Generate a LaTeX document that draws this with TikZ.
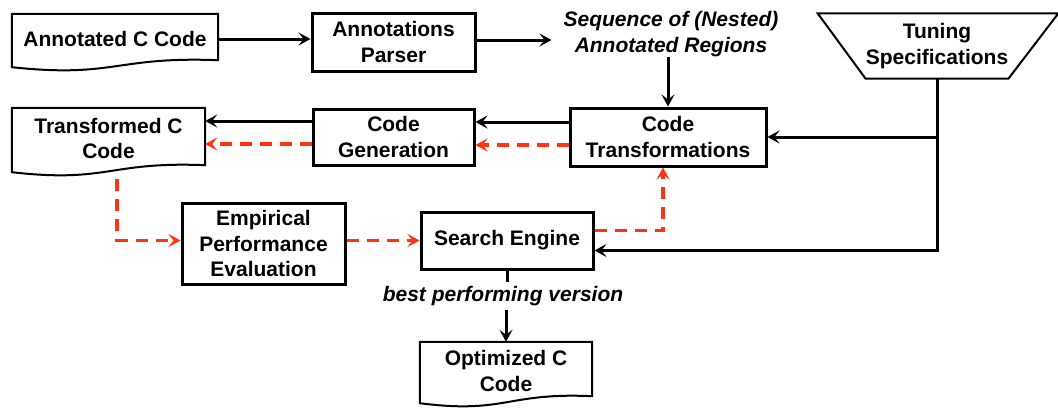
\documentclass[tikz,border=0pt]{standalone}
\usepackage{fontspec}
\setmainfont{Liberation Sans}
\usetikzlibrary{arrows.meta,calc}
\definecolor{dashred}{RGB}{255,51,17}
\tikzset{
  x=1pt, y=-1pt,
  lbl/.style={font=\bfseries\fontsize{21}{25.5}\selectfont, align=center, inner sep=0pt},
  box/.style={lbl, draw, line width=3pt},
  docnode/.style={lbl},
  docline/.style={draw, line width=2pt, line join=miter},
  arr/.style={line width=3pt, -{Stealth[length=12pt,width=13pt,inset=5pt]}},
  plain/.style={line width=3pt},
  redarr/.style={line width=3.4pt, dashed, dash pattern=on 12pt off 8pt, draw=dashred, -{Stealth[length=12pt,width=13pt,inset=5pt]}},
}
\newcommand\docpath[1]{\path[docline] (#1.north west) -- (#1.north east) -- ($(#1.south east)+(0,-4)$) .. controls ($(#1.south)+(0,-8)$) and ($(#1.south)+(0,14)$) .. ($(#1.south west)+(0,3)$) -- cycle;}
\begin{document}
\begin{tikzpicture}
\useasboundingbox (0,0) rectangle (1058,410);
% nodes
\node[docnode, minimum width=206pt, minimum height=50pt] (acc) at (115,39) {Annotated C Code};
\node[box, minimum width=163pt, minimum height=58pt] (parser) at (393.5,42) {Annotations\\Parser};
\node[lbl, font=\bfseries\itshape\fontsize{21}{26}\selectfont, inner xsep=12pt] (seq) at (671,34) {Sequence of (Nested)\\Annotated Regions};
\node[lbl, minimum width=134pt, minimum height=65pt] (tune) at (937,46) {Tuning\\Specifications};
\node[box, minimum width=196pt, minimum height=58pt] (ct) at (668,137) {Code\\Transformations};
\node[box, minimum width=161pt, minimum height=56pt] (cg) at (393.5,137) {Code\\Generation};
\node[docnode, minimum width=193pt, minimum height=61pt] (tcc) at (108.5,138.5) {Transformed C\\Code};
\node[box, minimum width=163pt, minimum height=81pt] (epe) at (263.5,243.5) {Empirical\\Performance\\Evaluation};
\node[box, minimum width=172pt, minimum height=57pt] (se) at (507,240.5) {Search Engine};
\node[lbl, font=\bfseries\itshape\fontsize{21}{25.5}\selectfont, inner ysep=4pt] (bpv) at (503,296) {best performing version};
\node[docnode, minimum width=172pt, minimum height=58pt] (occ) at (506,371) {Optimized C\\Code};
% shapes
\docpath{acc}
\docpath{tcc}
\docpath{occ}
\draw[line width=2pt] ($(tune.north west)+(-48,0)$) -- ($(tune.north east)+(50,0)$) -- (tune.south east) -- (tune.south west) -- cycle;
% helper coordinates
\coordinate (pOut) at ($(parser.east)+(0,-2)$);
\coordinate (seIn) at ($(se.east)+(0,10)$);
\coordinate (ctOutB) at ($(ct.west)+(0,-15)$);
\coordinate (ctOutR) at ($(ct.west)+(0,8)$);
\coordinate (cgOutB) at ($(cg.west)+(0,-16)$);
\coordinate (cgOutR) at ($(cg.west)+(0,7)$);
\coordinate (tccOut) at ($(tcc.south)+(8.5,10)$);
\coordinate (epeIn) at ($(epe.west)+(0,-3)$);
\coordinate (epeOut) at ($(epe.east)+(0,-3)$);
\coordinate (seOut) at ($(se.east)+(0,-10)$);
\coordinate (ctIn) at ($(ct.south)+(-5,0)$);
% black connectors
\draw[arr] (acc.east) -- (acc.east -| parser.west);
\draw[arr] (pOut) -- (pOut -| seq.west);
\draw[arr] (seq.south -| ct.north) -- (ct.north);
\draw[arr] (tune.south) |- (ct.east);
\draw[arr] (tune.south) |- (seIn);
\draw[arr] (ctOutB) -- (ctOutB -| cg.east);
\draw[arr] (cgOutB) -- (cgOutB -| tcc.east);
\draw[plain] (se.south) -- (se.south |- bpv.north);
\draw[arr] (bpv.south -| occ.north) -- (occ.north);
% red dashed connectors
\draw[redarr] (ctOutR) -- (ctOutR -| cg.east);
\draw[redarr] (cgOutR) -- (cgOutR -| tcc.east);
\draw[redarr] (tccOut) |- (epeIn);
\draw[redarr] (epeOut) -- (epeOut -| se.west);
\draw[redarr] (seOut) -| (ctIn);
\end{tikzpicture}
\end{document}
